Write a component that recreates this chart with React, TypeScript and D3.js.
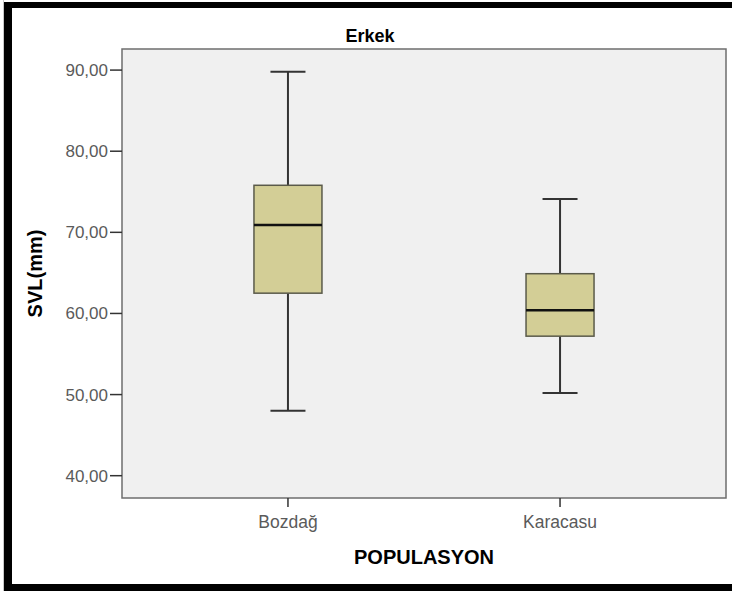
import React from "react";
import * as d3 from "d3";

const categories = ["Bozdağ", "Karacasu"];
const whiskerLow = [48.0, 50.2];
const q1 = [62.5, 57.2];
const median = [70.9, 60.4];
const q3 = [75.8, 64.9];
const whiskerHigh = [89.8, 74.1];
const yTicks = [40, 50, 60, 70, 80, 90];

const W = 732;
const H = 591;
const plot = { left: 122, right: 726, top: 49, bottom: 498 };

export default function App() {
  const x = d3.scalePoint<string>().domain(categories).range([plot.left, plot.right]).padding(0.61);
  const y = d3.scaleLinear().domain([37.25, 92.6]).range([plot.bottom, plot.top]);
  const fmt = (v: number) => v.toFixed(2).replace(".", ",");
  const boxW = 68;
  const capW = 35;
  const font = "'Liberation Sans', Arial, sans-serif";
  return (
    <svg width={W} height={H} style={{ position: "absolute", left: 0, top: 0, background: "#fff" }}>
      <rect x={0} y={0} width={W} height={H} fill="#fff" />
      {/* frame */}
      <rect x={3} y={0} width={1} height={H} fill="#c8c8c8" />
      <rect x={4} y={2} width={W - 4} height={6} fill="#000" />
      <rect x={4} y={2} width={8} height={H - 2} fill="#000" />
      <rect x={4} y={584} width={W - 4} height={7} fill="#000" />
      {/* title */}
      <text x={370} y={42} textAnchor="middle" fontFamily={font} fontWeight="bold" fontSize={18} fill="#000">Erkek</text>
      {/* plot area */}
      <rect x={plot.left} y={plot.top} width={plot.right - plot.left} height={plot.bottom - plot.top} fill="#f0f0f0" stroke="#6e6e6e" strokeWidth={1.5} />
      {/* y ticks */}
      {yTicks.map((t) => (
        <g key={t}>
          <line x1={110} x2={plot.left} y1={y(t)} y2={y(t)} stroke="#333" strokeWidth={1.5} />
          <text x={108} y={y(t) + 6} textAnchor="end" fontFamily={font} fontSize={17} fill="#5a5a5a">{fmt(t)}</text>
        </g>
      ))}
      {/* x ticks */}
      {categories.map((c) => (
        <g key={c}>
          <line x1={x(c)} x2={x(c)} y1={plot.bottom} y2={plot.bottom + 9} stroke="#333" strokeWidth={1.5} />
          <text x={x(c)} y={plot.bottom + 30} textAnchor="middle" fontFamily={font} fontSize={17.5} fill="#5a5a5a">{c}</text>
        </g>
      ))}
      {/* boxes */}
      {categories.map((c, i) => {
        const cx = x(c) as number;
        return (
          <g key={c}>
            <line x1={cx} x2={cx} y1={y(whiskerHigh[i])} y2={y(q3[i])} stroke="#333" strokeWidth={2} />
            <line x1={cx} x2={cx} y1={y(q1[i])} y2={y(whiskerLow[i])} stroke="#333" strokeWidth={2} />
            <line x1={cx - capW / 2} x2={cx + capW / 2} y1={y(whiskerHigh[i])} y2={y(whiskerHigh[i])} stroke="#333" strokeWidth={2} />
            <line x1={cx - capW / 2} x2={cx + capW / 2} y1={y(whiskerLow[i])} y2={y(whiskerLow[i])} stroke="#333" strokeWidth={2} />
            <rect x={cx - boxW / 2} y={y(q3[i])} width={boxW} height={y(q1[i]) - y(q3[i])} fill="#d3ce96" stroke="#5a5a4a" strokeWidth={1.5} />
            <line x1={cx - boxW / 2} x2={cx + boxW / 2} y1={y(median[i])} y2={y(median[i])} stroke="#111" strokeWidth={2.5} />
          </g>
        );
      })}
      {/* axis titles */}
      <text x={(plot.left + plot.right) / 2} y={564} textAnchor="middle" fontFamily={font} fontWeight="bold" fontSize={20} fill="#000">POPULASYON</text>
      <text transform={`translate(42, ${(plot.top + plot.bottom) / 2}) rotate(-90)`} textAnchor="middle" fontFamily={font} fontWeight="bold" fontSize={20} fill="#000">SVL(mm)</text>
    </svg>
  );
}
